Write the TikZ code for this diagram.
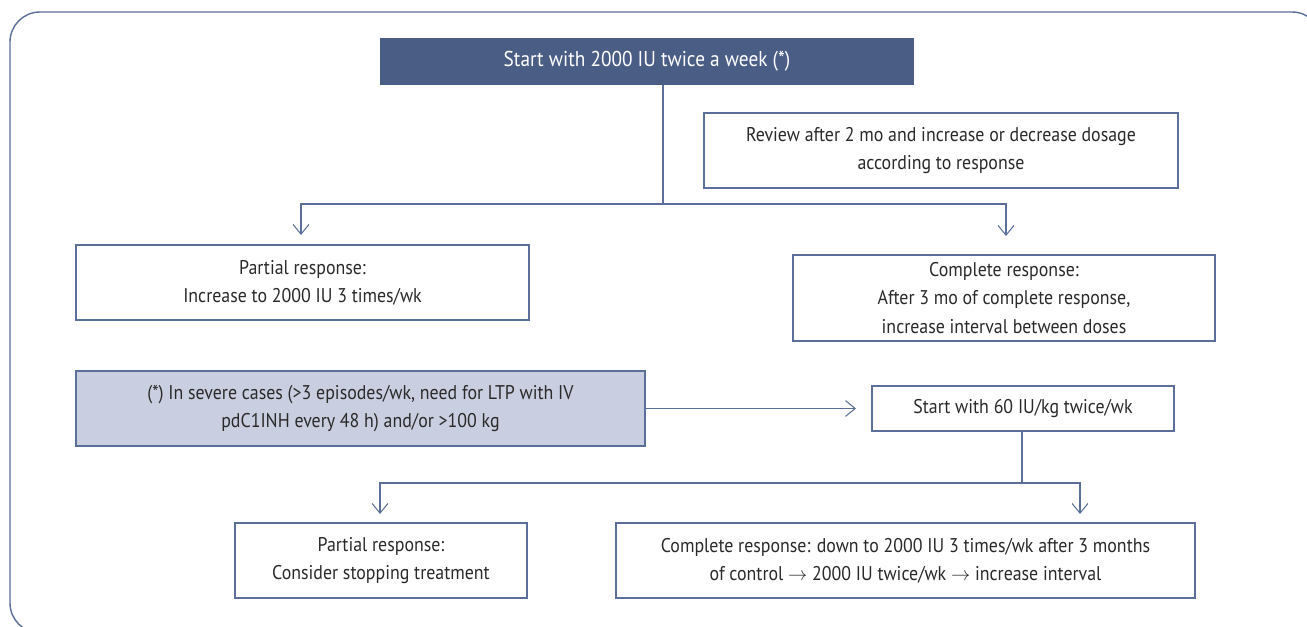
\documentclass[tikz,border=0pt]{standalone}
\usepackage{fontspec}
\setmainfont{PT Sans}[FakeStretch=0.9]
\usepackage{xcolor}
\usepackage{tikz}
\usetikzlibrary{arrows.meta}
\definecolor{FlowNavy}{HTML}{4A5D85}
\definecolor{FlowLine}{HTML}{5B6F9A}
\definecolor{FlowShade}{HTML}{C9CFE0}
\definecolor{FlowText}{HTML}{2A2A2A}

\tikzset{
  flowbox/.style={draw=FlowLine,line width=0.6pt,fill=white,align=center,inner sep=0pt,
    text=FlowText,font=\fontsize{11.3}{16}\selectfont},
  flowline/.style={draw=FlowLine,line width=0.6pt},
  flowarrow/.style={flowline,-{Straight Barb[length=5.5pt,width=9pt]}}
}

\begin{document}
\begin{tikzpicture}[x=1cm,y=1cm]
\path[use as bounding box] (0,0) rectangle (26.14,12.52);
\draw[FlowLine,line width=0.8pt,rounded corners=0.6cm] (0.20,-0.14) rectangle (26.44,12.28);
% first line of treatment
\node[flowbox,fill=FlowNavy,draw=FlowNavy,text=white,font=\fontsize{12.2}{16}\selectfont,minimum width=10.64cm,minimum height=0.90cm] (start) at (12.94,11.29) {Start with 2000 IU twice a week (*)};
\node[flowbox,minimum width=9.48cm,minimum height=1.50cm] (review) at (18.82,9.51) {Review after 2 mo and increase or decrease dosage\\according to response};
\node[flowbox,minimum width=9.06cm,minimum height=1.50cm] (partial1) at (6.05,6.87) {Partial response:\\Increase to 2000 IU 3 times/wk};
\node[flowbox,minimum width=8.44cm,minimum height=1.72cm] (complete1) at (20.08,6.56) {Complete response:\\After 3 mo of complete response,\\increase interval between doses};
\coordinate (split1) at (13.26,8.44);
\coordinate (partial1tip) at (6.02,7.82);
\coordinate (complete1tip) at (20.12,7.80);
\draw[flowline] (start.south -| split1) -- (split1);
\draw[flowarrow] (split1) -| (partial1tip);
\draw[flowarrow] (split1) -| (complete1tip);
% severe cases
\node[flowbox,fill=FlowShade,minimum width=11.38cm,minimum height=1.50cm] (severe) at (7.21,4.35) {(*) In severe cases (>3 episodes/wk, need for LTP with IV\\pdC1INH every 48 h) and/or >100 kg};
\node[flowbox,minimum width=6.04cm,minimum height=0.90cm] (start60) at (20.46,4.35) {Start with 60 IU/kg twice/wk};
\coordinate (start60tip) at (17.12,4.35);
\draw[flowarrow] (severe.east) -- (start60tip);
\node[flowbox,minimum width=5.84cm,minimum height=1.50cm] (partial2) at (7.62,1.31) {Partial response:\\Consider stopping treatment};
\node[flowbox,minimum width=11.58cm,minimum height=1.50cm] (complete2) at (18.11,1.31) {Complete response: down to 2000 IU 3 times/wk after 3 months\\of control $\rightarrow$ 2000 IU twice/wk $\rightarrow$ increase interval};
\coordinate (split2) at (20.44,2.86);
\coordinate (partial2tip) at (7.60,2.24);
\coordinate (complete2tip) at (21.60,2.24);
\draw[flowline] (start60.south -| split2) -- (split2);
\draw[flowarrow] (split2) -| (partial2tip);
\draw[flowarrow] (split2) -| (complete2tip);
\end{tikzpicture}
\end{document}
